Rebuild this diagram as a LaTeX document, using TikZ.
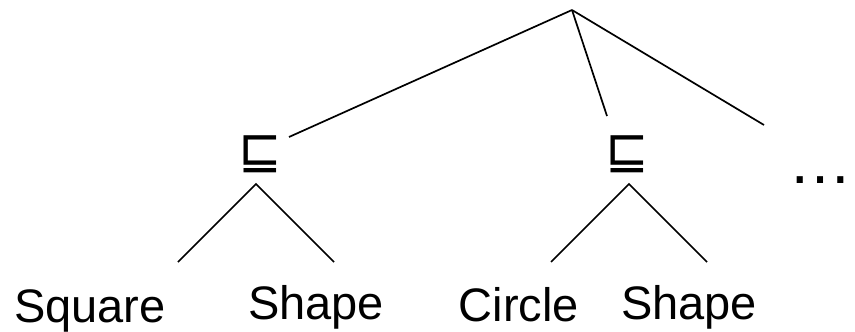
\documentclass[tikz,border=0pt]{standalone}
\usepackage{fontspec}
\setmainfont{Liberation Sans}
\newfontfamily\symfont{DejaVu Sans}
\begin{document}
\begin{tikzpicture}[x=1pt,y=-1pt,
  edge/.style={line width=1.7pt,black},
  leaf/.style={anchor=base,inner sep=0pt,font=\fontsize{47}{50}\selectfont},
  relop/.style={anchor=center,inner sep=0pt,font=\symfont\fontsize{52}{54}\selectfont},
  dots/.style={anchor=base,inner sep=0pt,font=\fontsize{64}{66}\selectfont}]
\useasboundingbox (0,0) rectangle (855,332);
% root and free ends
\coordinate (root) at (572,10);
\coordinate (eL) at (289,137);
\coordinate (eM) at (607,116);
\coordinate (eR) at (764,125);
% operator nodes
\node[relop] (opL) at (260,154.5) {⊑};
\node[relop] (opR) at (627.5,154) {⊑};
\node[dots] (ell) at (820.5,183) {…};
% subtree apexes and ends
\coordinate (aL) at (256,184);
\coordinate (aLl) at (178,262);
\coordinate (aLr) at (334,262);
\coordinate (aR) at (629,184);
\coordinate (aRl) at (551,262);
\coordinate (aRr) at (707,262);
% leaves
\node[leaf] (sq) at (90,322) {Square};
\node[leaf] (sh1) at (316,319) {Shape};
\node[leaf] (ci) at (519,321) {Circle};
\node[leaf] (sh2) at (689,319) {Shape};
% connectors
\draw[edge] (root) -- (eL);
\draw[edge] (root) -- (eM);
\draw[edge] (root) -- (eR);
\draw[edge] (aLl) -- (aL) -- (aLr);
\draw[edge] (aRl) -- (aR) -- (aRr);
\end{tikzpicture}
\end{document}
